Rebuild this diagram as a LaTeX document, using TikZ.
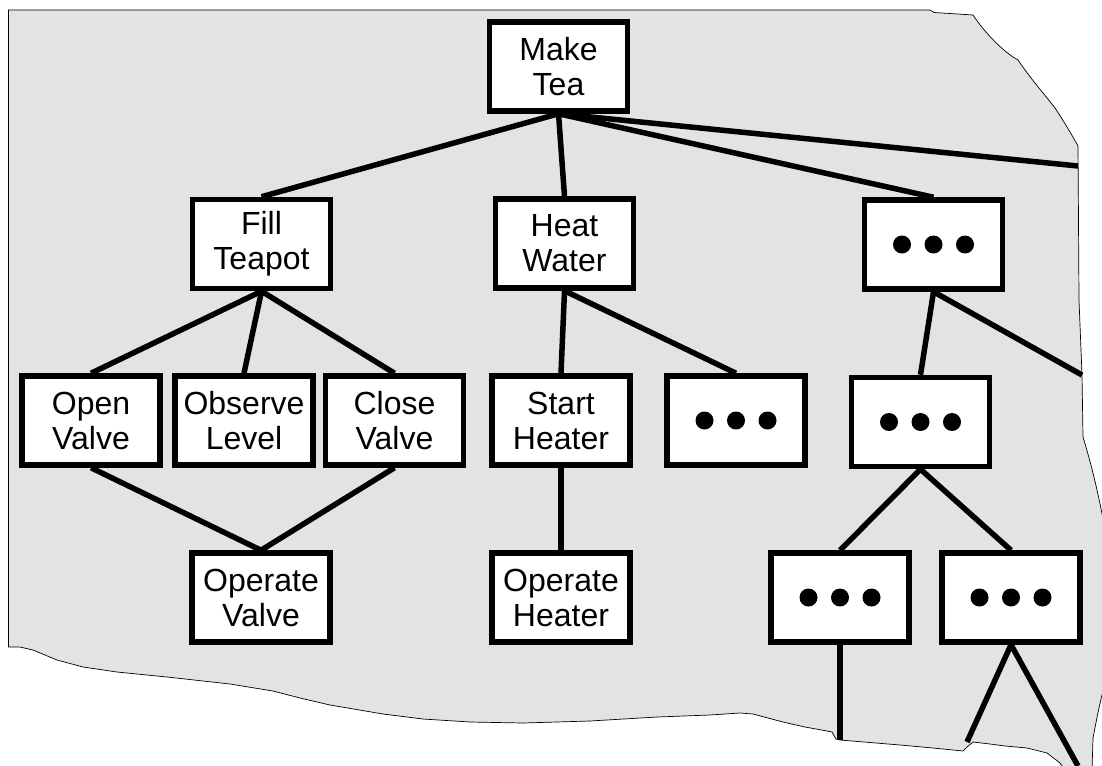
\documentclass[tikz,border=0pt]{standalone}
\usepackage{fontspec}
\setmainfont{Liberation Sans}
\begin{document}
\begin{tikzpicture}[x=1pt,y=-1pt]
\tikzset{
 box/.style={draw=black, fill=white, line width=5.5pt, minimum width=138pt, minimum height=89pt, inner sep=0pt, align=center, font=\fontsize{32}{35}\selectfont},
 conn/.style={line width=5.5pt},
 bg/.style={fill=black!11, draw=black, line width=0.7pt}
}
\useasboundingbox (0,0) rectangle (1102,765);
\begin{scope}
\clip (0,0) rectangle (1102,765);
\path[bg] (8.5,10) -- (930,10) -- (934,12.5) -- (973,15)
 .. controls (985,33) and (1000,48) .. (1013,57) -- (1018,60)
 .. controls (1030,78) and (1045,95) .. (1055,108)
 .. controls (1063,120) and (1072,135) .. (1078,146)
 -- (1079,300) -- (1082,375) -- (1083,437)
 .. controls (1090,460) and (1098,490) .. (1106,535)
 -- (1108,680) -- (1102,695)
 .. controls (1098,712) .. (1093,738) -- (1092,770) -- (1065,770)
 -- (1060,763) -- (1047,753) -- (1027,748) -- (1005,746) -- (990,744)
 -- (973,742) -- (967,747) -- (963,751) -- (933,748) -- (900,745)
 -- (840,740) -- (836,739) -- (832,732) -- (827,731)
 -- (805,727) -- (783,722) -- (753,714) -- (740,713) -- (710,715)
 -- (657,717) -- (590,721) -- (523,723) -- (470,722) -- (423,719)
 -- (383,714) -- (330,705) -- (300,698) -- (273,691) -- (230,684)
 -- (167,677) -- (117,672) -- (83,667) -- (57,660) -- (33,650)
 -- (20,647) -- (8.5,647) -- cycle;
\end{scope}
% nodes
\node[box] (make) at (558.5,66.5) {Make\\Tea};
\node[box] (fill) at (261.5,244) {Fill\\Teapot};
\node[box] (heat) at (564.5,243.5) {Heat\\Water};
\node[box] (d1) at (933.5,244.5) {};
\node[box] (open) at (91,420.5) {Open\\Valve};
\node[box] (observe) at (244,420.5) {Observe\\Level};
\node[box] (close) at (394.5,420.5) {Close\\Valve};
\node[box] (start) at (561,420.5) {Start\\Heater};
\node[box] (d2) at (736,420.5) {};
\node[box] (d3) at (920.5,422) {};
\node[box] (opv) at (261,597.5) {Operate\\Valve};
\node[box] (oph) at (561,597.5) {Operate\\Heater};
\node[box] (d4) at (840,597.5) {};
\node[box] (d5) at (1011,597.5) {};
\foreach \n in {d1,d2,d3,d4,d5}{
  \foreach \dx in {-31.5,0,31.5}{
    \fill ([xshift=\dx pt]\n.center) circle[radius=9pt];
  }
}
% free ends
\coordinate (e1) at (1078,166);
\coordinate (e2) at (1082,375);
\coordinate (e3) at (840,740);
\coordinate (e4) at (967,742);
\coordinate (e5) at (1078,766);
% connectors
\draw[conn] (make.south) -- (fill.north);
\draw[conn] (make.south) -- (heat.north);
\draw[conn] (make.south) -- (d1.north);
\draw[conn] (make.south) -- (e1);
\draw[conn] (fill.south) -- (open.north);
\draw[conn] (fill.south) -- (observe.north);
\draw[conn] (fill.south) -- (close.north);
\draw[conn] (open.south) -- (opv.north);
\draw[conn] (close.south) -- (opv.north);
\draw[conn] (heat.south) -- (start.north);
\draw[conn] (heat.south) -- (d2.north);
\draw[conn] (start.south) -- (oph.north);
\draw[conn] (d1.south) -- (d3.north);
\draw[conn] (d1.south) -- (e2);
\draw[conn] (d3.south) -- (d4.north);
\draw[conn] (d3.south) -- (d5.north);
\draw[conn] (d4.south) -- (e3);
\draw[conn] (d5.south) -- (e4);
\draw[conn] (d5.south) -- (e5);
\end{tikzpicture}
\end{document}
